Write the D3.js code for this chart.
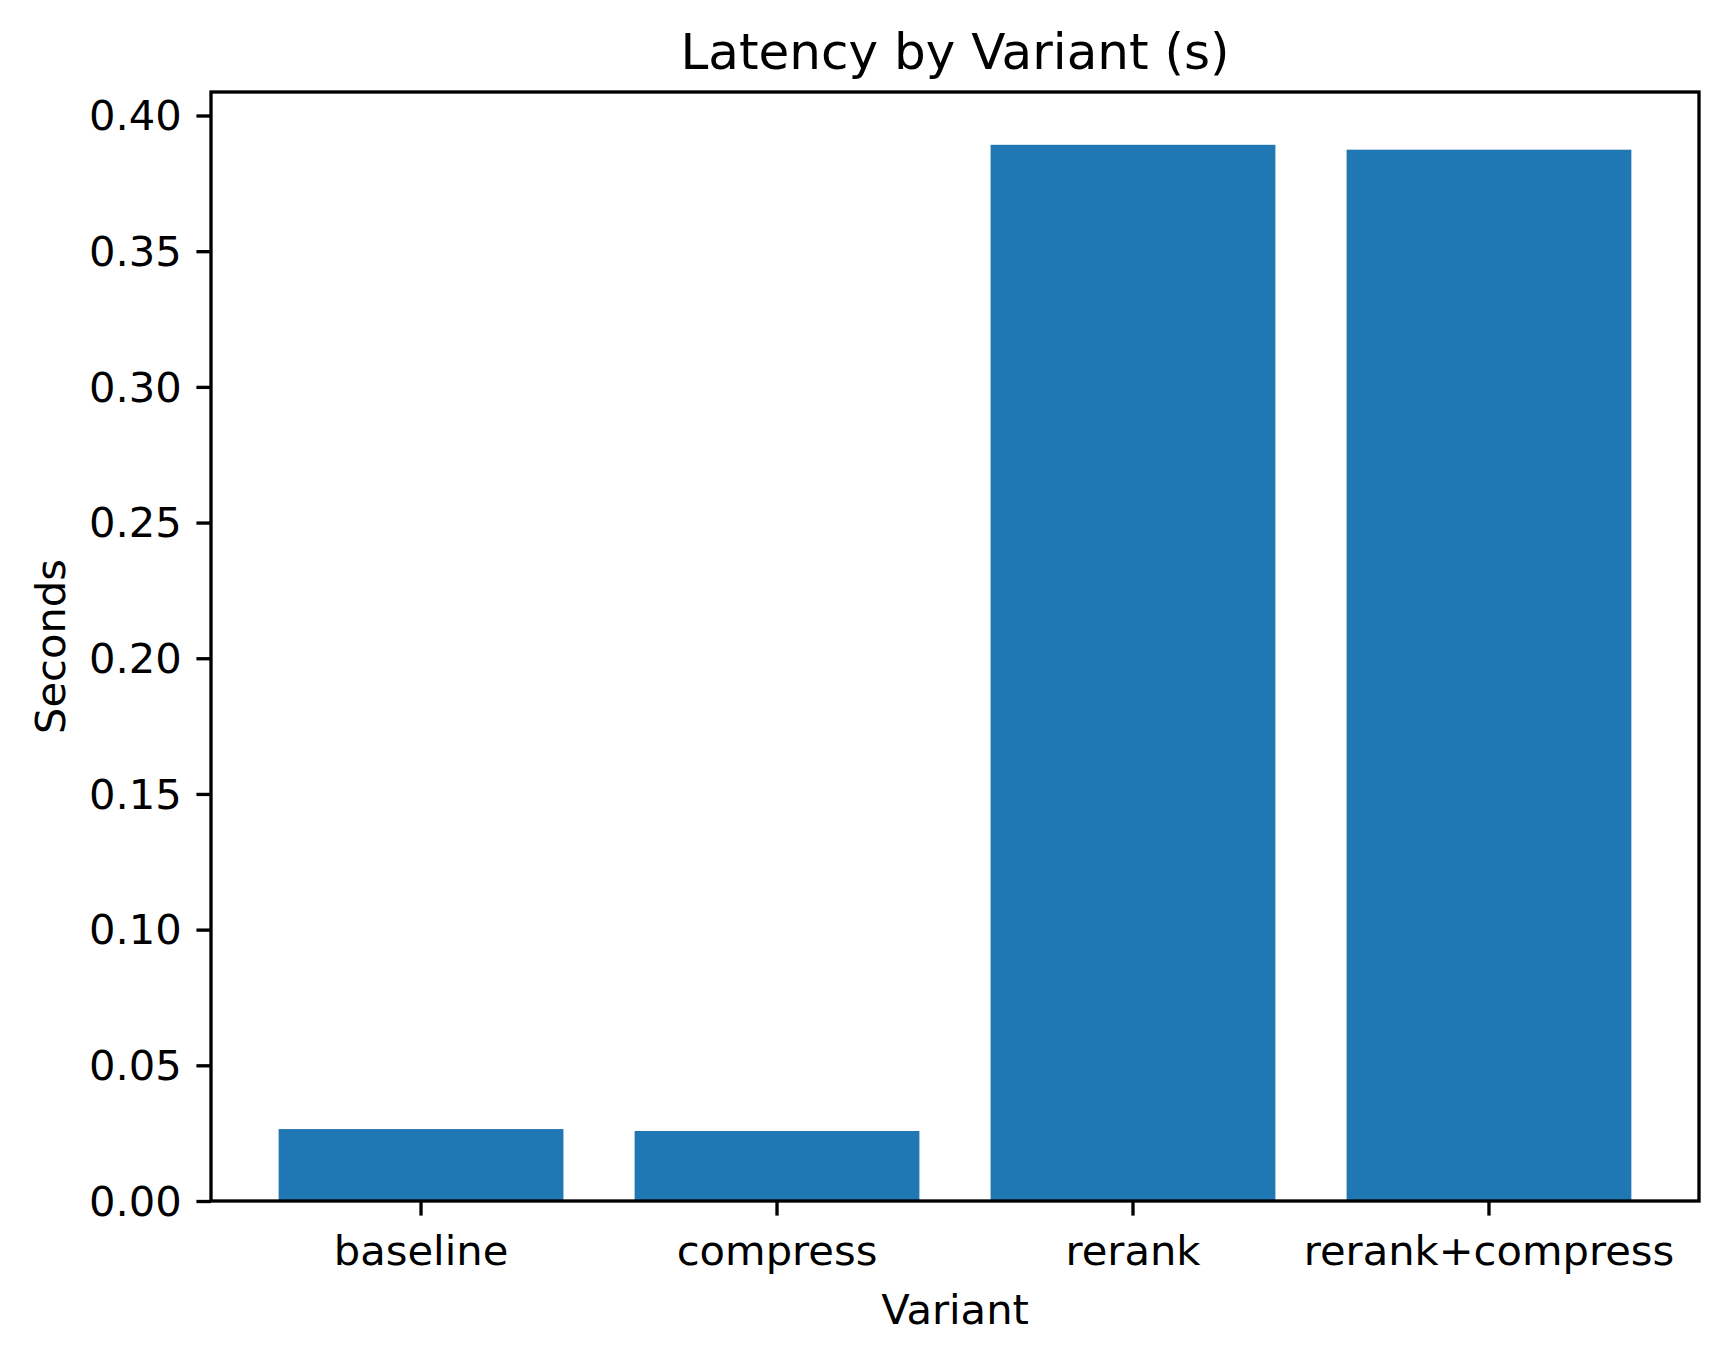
<!DOCTYPE html>
<html>
<head>
<meta charset="utf-8">
<script src="https://cdn.jsdelivr.net/npm/d3@7"></script>
<style>
  body { margin: 0; background: #fff; }
  text { font-family: "DejaVu Sans", sans-serif; fill: #000; }
</style>
</head>
<body>
<div id="chart-area"></div>
<script>
// data
const variants = ['baseline', 'compress', 'rerank', 'rerank+compress'];
const latency = [0.0265, 0.0258, 0.3892, 0.3874];
const yTicks = [0, 0.05, 0.10, 0.15, 0.20, 0.25, 0.30, 0.35, 0.40];

const widthSvg = 1728;
const heightSvg = 1361;
const margin = { top: 92, right: 29, bottom: 160, left: 211 };
const widthChart = widthSvg - margin.left - margin.right;
const heightChart = heightSvg - margin.top - margin.bottom;

const fontTick = 41.67;
const tickLen = 14.6;

const svg = d3.select('#chart-area')
  .append('svg')
    .attr('width', widthSvg)
    .attr('height', heightSvg);

const chart = svg.append('g')
  .attr('transform', `translate(${margin.left}, ${margin.top})`);

// matplotlib-ish: bars 0.8 wide, 5% margins on x, 5% headroom on y
const scaleX = d3.scaleBand()
  .domain(variants)
  .range([0, widthChart])
  .paddingInner(0.2)
  .paddingOuter(0.19);

const scaleY = d3.scaleLinear()
  .domain([0, d3.max(latency) * 1.05])
  .range([heightChart, 0]);

chart.selectAll('rect.bar')
  .data(variants)
  .enter()
  .append('rect')
    .attr('class', 'bar')
    .attr('x', d => scaleX(d))
    .attr('y', (d, i) => scaleY(latency[i]))
    .attr('width', scaleX.bandwidth())
    .attr('height', (d, i) => heightChart - scaleY(latency[i]))
    .attr('fill', '#1f77b4');

const axisX = d3.axisBottom(scaleX)
  .tickSize(tickLen)
  .tickPadding(tickLen);

const axisY = d3.axisLeft(scaleY)
  .tickValues(yTicks)
  .tickFormat(d3.format('.2f'))
  .tickSize(tickLen)
  .tickPadding(tickLen);

const groupAxisX = chart.append('g')
  .attr('transform', `translate(0, ${heightChart})`)
  .call(axisX);

const groupAxisY = chart.append('g')
  .call(axisY);

[groupAxisX, groupAxisY].forEach(g => {
  g.select('.domain').remove();
  g.selectAll('line').attr('stroke', '#000').attr('stroke-width', 3.33);
  g.selectAll('text')
    .attr('font-size', fontTick)
    .attr('font-family', 'DejaVu Sans')
    .attr('fill', '#000');
});
groupAxisX.selectAll('text').attr('dy', '0.83em');
groupAxisY.selectAll('text').attr('dy', '0.34em');

// spines
chart.append('rect')
  .attr('width', widthChart)
  .attr('height', heightChart)
  .attr('fill', 'none')
  .attr('stroke', '#000')
  .attr('stroke-width', 3.33)
  .attr('stroke-linejoin', 'miter');

svg.append('text')
  .attr('x', margin.left + widthChart / 2)
  .attr('y', 69)
  .attr('text-anchor', 'middle')
  .attr('font-size', 50)
  .text('Latency by Variant (s)');

svg.append('text')
  .attr('x', margin.left + widthChart / 2)
  .attr('y', 1324)
  .attr('text-anchor', 'middle')
  .attr('font-size', fontTick)
  .text('Variant');

svg.append('text')
  .attr('transform', `translate(65, ${margin.top + heightChart / 2}) rotate(-90)`)
  .attr('text-anchor', 'middle')
  .attr('font-size', fontTick)
  .text('Seconds');
</script>
</body>
</html>
